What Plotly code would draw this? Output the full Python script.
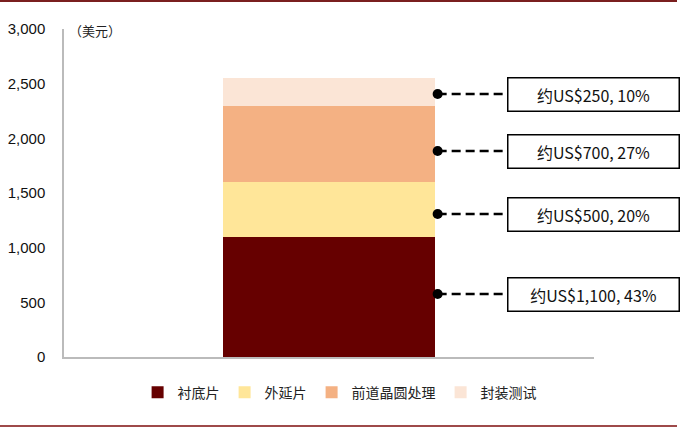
import plotly.graph_objects as go

# cost structure of one wafer (USD)
segments = ["衬底片", "外延片", "前道晶圆处理", "封装测试"]
costs = [1100, 500, 700, 250]
labels = ["约US$1,100, 43%", "约US$500, 20%", "约US$700, 27%", "约US$250, 10%"]
colors = ["#660000", "#FFE699", "#F4B183", "#FBE5D6"]
yticks = [0, 500, 1000, 1500, 2000, 2500, 3000]

cjk = "Noto Sans CJK SC"
num = "Liberation Sans"

fig = go.Figure()
for name, val, col in zip(segments, costs, colors):
    fig.add_trace(go.Bar(name=name, x=[0], y=[val], marker_color=col,
                         marker_line_width=0, width=0.4))

fig.update_layout(
    width=683, height=429,
    margin=dict(l=64, r=89, t=29, b=72),
    barmode="stack",
    plot_bgcolor="white", paper_bgcolor="white",
    showlegend=True,
    legend=dict(orientation="h", x=0.52, xanchor="center", y=-0.06, yanchor="top",
                traceorder="normal", font=dict(family=cjk, size=14, color="#222"),
                itemwidth=30, tracegroupgap=0),
    xaxis=dict(range=[-0.5, 0.5], showticklabels=False, showgrid=False, zeroline=False,
               showline=True, linecolor="#BBBBBB", linewidth=1.5, fixedrange=True,
               automargin=False),
    yaxis=dict(range=[0, 3000], tickvals=yticks,
               ticktext=[f"{v:,}" for v in yticks], showgrid=False, zeroline=False,
               showline=True, linecolor="#BBBBBB", linewidth=1.5, automargin=False,
               tickfont=dict(family=num, size=15, color="#111"), ticklabelstandoff=14),
)

# unit label
fig.add_annotation(text="（美元）", xref="paper", yref="paper", x=0.005, y=0.995,
                   xanchor="left", yanchor="middle", showarrow=False,
                   font=dict(family=cjk, size=13, color="#222"))

# callouts: dot at bar edge, dashed leader, boxed label
box_y = [294, 214, 151, 94]
for val, lab, py in zip(costs, labels, box_y):
    ydata = (357 - py) / 328 * 3000
    fig.add_shape(type="line", xref="x", yref="y", x0=0.205, x1=0.49, y0=ydata, y1=ydata,
                  line=dict(color="black", width=2.5, dash="9px,5px"))
    fig.add_trace(go.Scatter(x=[0.205], y=[ydata], mode="markers", showlegend=False,
                             marker=dict(color="black", size=10), hoverinfo="skip"))
    fig.add_annotation(text=lab, xref="paper", yref="y", x=(507 - 64) / 530, y=ydata,
                       xanchor="left", yanchor="middle", showarrow=False,
                       width=166, height=28, borderpad=2, bgcolor="white",
                       bordercolor="black", borderwidth=1.5,
                       font=dict(family=cjk, size=16, color="#111"))

# decorative rules at top and bottom of the figure
fig.add_shape(type="line", xref="paper", yref="paper", x0=-64 / 530, x1=(677 - 64) / 530,
              y0=(357 - 1) / 328, y1=(357 - 1) / 328, line=dict(color="#7A1F1F", width=2))
fig.add_shape(type="line", xref="paper", yref="paper", x0=-64 / 530, x1=(677 - 64) / 530,
              y0=(357 - 426) / 328, y1=(357 - 426) / 328, line=dict(color="#9E4A4A", width=2))

fig.write_html("out.html", config={"displayModeBar": False},
               post_script="document.body.style.margin='0';")
